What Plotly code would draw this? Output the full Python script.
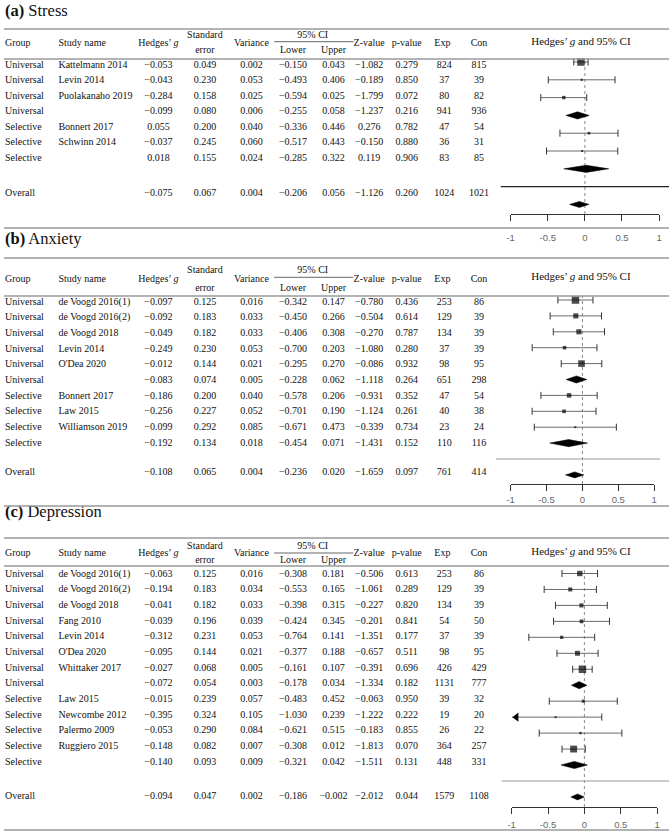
import math
import plotly.graph_objects as go

W, H = 672, 833

# ---------------- data ----------------
tick_vals = [-1, -0.5, 0, 0.5, 1]
tick_text = ["-1", "-0.5", "0", "0.5", "1"]

# (a) Stress
stress_group = ["Universal", "Universal", "Universal", "Universal", "Selective", "Selective", "Selective", "Overall"]
stress_study = ["Kattelmann 2014", "Levin 2014", "Puolakanaho 2019", "", "Bonnert 2017", "Schwinn 2014", "", ""]
stress_g = [-0.053, -0.043, -0.284, -0.099, 0.055, -0.037, 0.018, -0.075]
stress_se = [0.049, 0.230, 0.158, 0.080, 0.200, 0.245, 0.155, 0.067]
stress_var = [0.002, 0.053, 0.025, 0.006, 0.040, 0.060, 0.024, 0.004]
stress_lo = [-0.150, -0.493, -0.594, -0.255, -0.336, -0.517, -0.285, -0.206]
stress_hi = [0.043, 0.406, 0.025, 0.058, 0.446, 0.443, 0.322, 0.056]
stress_z = [-1.082, -0.189, -1.799, -1.237, 0.276, -0.150, 0.119, -1.126]
stress_p = [0.279, 0.850, 0.072, 0.216, 0.782, 0.880, 0.906, 0.260]
stress_exp = [824, 37, 80, 941, 47, 36, 83, 1024]
stress_con = [815, 39, 82, 936, 54, 31, 85, 1021]

# (b) Anxiety
anx_group = ["Universal", "Universal", "Universal", "Universal", "Universal", "Universal",
             "Selective", "Selective", "Selective", "Selective", "Overall"]
anx_study = ["de Voogd 2016(1)", "de Voogd 2016(2)", "de Voogd 2018", "Levin 2014", "O'Dea 2020", "",
             "Bonnert 2017", "Law 2015", "Williamson 2019", "", ""]
anx_g = [-0.097, -0.092, -0.049, -0.249, -0.012, -0.083, -0.186, -0.256, -0.099, -0.192, -0.108]
anx_se = [0.125, 0.183, 0.182, 0.230, 0.144, 0.074, 0.200, 0.227, 0.292, 0.134, 0.065]
anx_var = [0.016, 0.033, 0.033, 0.053, 0.021, 0.005, 0.040, 0.052, 0.085, 0.018, 0.004]
anx_lo = [-0.342, -0.450, -0.406, -0.700, -0.295, -0.228, -0.578, -0.701, -0.671, -0.454, -0.236]
anx_hi = [0.147, 0.266, 0.308, 0.203, 0.270, 0.062, 0.206, 0.190, 0.473, 0.071, 0.020]
anx_z = [-0.780, -0.504, -0.270, -1.080, -0.086, -1.118, -0.931, -1.124, -0.339, -1.431, -1.659]
anx_p = [0.436, 0.614, 0.787, 0.280, 0.932, 0.264, 0.352, 0.261, 0.734, 0.152, 0.097]
anx_exp = [253, 129, 134, 37, 98, 651, 47, 40, 23, 110, 761]
anx_con = [86, 39, 39, 39, 95, 298, 54, 38, 24, 116, 414]

# (c) Depression
dep_group = ["Universal", "Universal", "Universal", "Universal", "Universal", "Universal", "Universal", "Universal",
             "Selective", "Selective", "Selective", "Selective", "Selective", "Overall"]
dep_study = ["de Voogd 2016(1)", "de Voogd 2016(2)", "de Voogd 2018", "Fang 2010", "Levin 2014", "O'Dea 2020",
             "Whittaker 2017", "", "Law 2015", "Newcombe 2012", "Palermo 2009", "Ruggiero 2015", "", ""]
dep_g = [-0.063, -0.194, -0.041, -0.039, -0.312, -0.095, -0.027, -0.072, -0.015, -0.395, -0.053, -0.148, -0.140, -0.094]
dep_se = [0.125, 0.183, 0.182, 0.196, 0.231, 0.144, 0.068, 0.054, 0.239, 0.324, 0.290, 0.082, 0.093, 0.047]
dep_var = [0.016, 0.034, 0.033, 0.039, 0.053, 0.021, 0.005, 0.003, 0.057, 0.105, 0.084, 0.007, 0.009, 0.002]
dep_lo = [-0.308, -0.553, -0.398, -0.424, -0.764, -0.377, -0.161, -0.178, -0.483, -1.030, -0.621, -0.308, -0.321, -0.186]
dep_hi = [0.181, 0.165, 0.315, 0.345, 0.141, 0.188, 0.107, 0.034, 0.452, 0.239, 0.515, 0.012, 0.042, -0.002]
dep_z = [-0.506, -1.061, -0.227, -0.201, -1.351, -0.657, -0.391, -1.334, -0.063, -1.222, -0.183, -1.813, -1.511, -2.012]
dep_p = [0.613, 0.289, 0.820, 0.841, 0.177, 0.511, 0.696, 0.182, 0.950, 0.222, 0.855, 0.070, 0.131, 0.044]
dep_exp = [253, 129, 134, 54, 37, 98, 426, 1131, 39, 19, 26, 364, 448, 1579]
dep_con = [86, 39, 39, 50, 39, 95, 429, 777, 32, 20, 22, 257, 331, 1108]

panel_titles = ["<b>(a)</b> Stress", "<b>(b)</b> Anxiety", "<b>(c)</b> Depression"]
forest_header = "Hedges\u2019 <i>g</i> and 95% CI"

# ---------------- layout constants (pixels) ----------------
SERIF = "Liberation Serif"
SANS = "Liberation Sans"
TXT = "#111111"
RULE = "#9a9a9a"
X_GROUP, X_STUDY = 1, 55
X_G, X_SE, X_VAR, X_LO, X_HI, X_Z, X_P, X_EXP, X_CON = 156, 203, 250, 292, 333, 369, 407, 445, 480
X_CI_HDR, CI_RULE_X0, CI_RULE_X1 = 312, 273, 353
X_FOREST_HDR = 583
SQ_MIN, SQ_MAX = 2.0, 7.5
SUB_HH, OV_HH = 3.6, 3.0

geo = [
    dict(title_y=12, top_rule=29, hdr1=35.7, hdr_mid=43, hdr2=50, ci_rule=41.7, hdr_rule=59,
         row_y0=65, row_dy=15.5, overall_y=193, bottom_rule=228, fhdr_y=42.7,
         f_x0=512, f_x1=662, f_y0=62, f_dy=17.8, f_axis=214, sep=(502, 672), sep_color="#222222", standoff=9),
    dict(title_y=240, top_rule=258, hdr1=270.7, hdr_mid=279.3, hdr2=288.3, ci_rule=277.3, hdr_rule=296,
         row_y0=302, row_dy=15.67, overall_y=472, bottom_rule=506, fhdr_y=277,
         f_x0=512, f_x1=657, f_y0=300, f_dy=15.9, f_axis=484, sep=(497, 663), sep_color="#999999", standoff=1),
    dict(title_y=513, top_rule=538, hdr1=546.7, hdr_mid=553, hdr2=560, ci_rule=553, hdr_rule=566,
         row_y0=574, row_dy=15.67, overall_y=796, bottom_rule=830, fhdr_y=552,
         f_x0=513, f_x1=660, f_y0=573.5, f_dy=15.96, f_axis=807, sep=(503, 672), sep_color="#999999", standoff=3),
]

datasets = [
    (stress_group, stress_study, stress_g, stress_se, stress_var, stress_lo, stress_hi, stress_z, stress_p, stress_exp, stress_con),
    (anx_group, anx_study, anx_g, anx_se, anx_var, anx_lo, anx_hi, anx_z, anx_p, anx_exp, anx_con),
    (dep_group, dep_study, dep_g, dep_se, dep_var, dep_lo, dep_hi, dep_z, dep_p, dep_exp, dep_con),
]


def f3(v):
    return f"{v:.3f}".replace("-", "\u2212")


fig = go.Figure()
shapes = []
layout_axes = {}

# canvas axis in pixel units for the table text and rules
layout_axes["xaxis"] = dict(range=[0, W], domain=[0, 1], visible=False, fixedrange=True)
layout_axes["yaxis"] = dict(range=[H, 0], domain=[0, 1], visible=False, fixedrange=True)


def text_trace(xs, ys, ts, pos, size=10, family=SERIF, xref="x", yref="y"):
    return go.Scatter(x=xs, y=ys, text=ts, mode="text", textposition=pos,
                      textfont=dict(family=family, size=size, color=TXT),
                      xaxis=xref, yaxis=yref, hoverinfo="skip", showlegend=False, cliponaxis=False)


for k, (P, D) in enumerate(zip(geo, datasets)):
    group, study, g, se, var, lo, hi, z, p, exp, con = D
    n = len(group) - 1
    ty = [P["row_y0"] + i * P["row_dy"] for i in range(n)] + [P["overall_y"]]

    # title
    fig.add_trace(text_trace([1], [P["title_y"]], [panel_titles[k]], "middle right", size=16.5))

    # header
    lx = [X_GROUP, X_STUDY]
    ly = [P["hdr_mid"], P["hdr_mid"]]
    lt = ["Group", "Study name"]
    fig.add_trace(text_trace(lx, ly, lt, "middle right"))
    cx = [X_G, X_SE, X_SE, X_VAR, X_CI_HDR, X_LO, X_HI, X_Z, X_P, X_EXP - 2, X_CON]
    cy = [P["hdr_mid"], P["hdr1"], P["hdr2"], P["hdr_mid"], P["hdr1"], P["hdr2"], P["hdr2"],
          P["hdr_mid"], P["hdr_mid"], P["hdr_mid"], P["hdr_mid"]]
    ct = ["Hedges\u2019 <i>g</i>", "Standard", "error", "Variance", "95% CI", "Lower", "Upper",
          "Z-value", "p-value", "Exp", "Con"]
    fig.add_trace(text_trace(cx, cy, ct, "middle center"))
    fig.add_trace(text_trace([X_FOREST_HDR], [P["fhdr_y"]], [forest_header], "middle center", size=11))

    # table body
    lx, ly, lt = [], [], []
    for i in range(n + 1):
        lx.append(X_GROUP); ly.append(ty[i]); lt.append(group[i])
        if study[i]:
            lx.append(X_STUDY); ly.append(ty[i]); lt.append(study[i])
    fig.add_trace(text_trace(lx, ly, lt, "middle right"))
    cx, cy, ct = [], [], []
    for vals, xc, fmt in [(g, X_G, f3), (se, X_SE, f3), (var, X_VAR, f3), (lo, X_LO, f3), (hi, X_HI, f3),
                          (z, X_Z, f3), (p, X_P, f3), (exp, X_EXP, str), (con, X_CON, str)]:
        for i in range(n + 1):
            cx.append(xc); cy.append(ty[i]); ct.append(fmt(vals[i]))
    fig.add_trace(text_trace(cx, cy, ct, "middle center"))

    # rules
    for yy in (P["top_rule"], P["hdr_rule"], P["bottom_rule"]):
        shapes.append(dict(type="line", xref="paper", yref="y", x0=0, x1=1, y0=yy, y1=yy,
                           line=dict(color=RULE, width=1.4)))
    shapes.append(dict(type="line", xref="x", yref="y", x0=CI_RULE_X0, x1=CI_RULE_X1,
                       y0=P["ci_rule"], y1=P["ci_rule"], line=dict(color="#666666", width=1)))

    # ---------- forest subplot ----------
    xa, ya = f"x{k + 2}", f"y{k + 2}"
    fy0, fdy = P["f_y0"], P["f_dy"]
    xmin, xmax = tick_vals[0], tick_vals[-1]
    rows = list(range(n)) + [n + 1]
    layout_axes[f"xaxis{k + 2}"] = dict(
        domain=[P["f_x0"] / W, P["f_x1"] / W], range=[xmin, xmax], anchor=ya,
        showline=True, linecolor="#333333", linewidth=1, ticks="outside", ticklen=6, tickwidth=1,
        tickcolor="#333333", tickvals=tick_vals, ticktext=tick_text,
        tickfont=dict(family=SANS, size=9.5, color="#666666"), ticklabelstandoff=P["standoff"],
        showgrid=False, zeroline=False, fixedrange=True)
    layout_axes[f"yaxis{k + 2}"] = dict(
        domain=[1 - P["f_axis"] / H, 1 - P["hdr_rule"] / H],
        range=[(P["f_axis"] - fy0) / fdy, (P["hdr_rule"] - fy0) / fdy],
        anchor=xa, visible=False, fixedrange=True)

    # zero line
    shapes.append(dict(type="line", xref=xa, yref=f"{ya} domain", x0=0, x1=0, y0=0, y1=1,
                       line=dict(color="#888888", width=1, dash="dot"), layer="below"))
    # separator before overall
    shapes.append(dict(type="line", xref="paper", yref=ya, x0=P["sep"][0] / W, x1=P["sep"][1] / W,
                       y0=n, y1=n, line=dict(color=P["sep_color"], width=1.2)))

    studies = [i for i in range(n + 1) if study[i]]
    summaries = [i for i in range(n + 1) if not study[i]]

    # CI lines
    lxs, lys, capx, capy, arx, ary, ars = [], [], [], [], [], [], []
    for i in studies:
        r = rows[i]
        lxs += [max(lo[i], xmin), min(hi[i], xmax), None]
        lys += [r, r, None]
        if lo[i] >= xmin:
            capx.append(lo[i]); capy.append(r)
        else:
            arx.append(xmin + 0.065); ary.append(r); ars.append("triangle-left")
        if hi[i] <= xmax:
            capx.append(hi[i]); capy.append(r)
        else:
            arx.append(xmax - 0.065); ary.append(r); ars.append("triangle-right")
    fig.add_trace(go.Scatter(x=lxs, y=lys, mode="lines", line=dict(color="#6a6a6a", width=1),
                             xaxis=xa, yaxis=ya, hoverinfo="skip", showlegend=False))
    fig.add_trace(go.Scatter(x=capx, y=capy, mode="markers",
                             marker=dict(symbol="line-ns", size=5, line=dict(color="#333333", width=1)),
                             xaxis=xa, yaxis=ya, hoverinfo="skip", showlegend=False, cliponaxis=False))
    if arx:
        fig.add_trace(go.Scatter(x=arx, y=ary, mode="markers",
                                 marker=dict(symbol=ars, size=8, color="#000000", line=dict(width=0)),
                                 xaxis=xa, yaxis=ya, hoverinfo="skip", showlegend=False, cliponaxis=False))

    # squares sized by inverse-variance weight (log scaled within panel)
    lw = [math.log(1.0 / var[i]) for i in studies]
    lmin, lmax = min(lw), max(lw)
    sizes = [SQ_MIN + (SQ_MAX - SQ_MIN) * (v - lmin) / (lmax - lmin) for v in lw]
    fig.add_trace(go.Scatter(x=[g[i] for i in studies], y=[rows[i] for i in studies], mode="markers",
                             marker=dict(symbol="square", size=sizes, color="#000000", line=dict(width=0)),
                             xaxis=xa, yaxis=ya, hoverinfo="skip", showlegend=False, cliponaxis=False))

    # diamonds
    dx, dy = [], []
    for i in summaries:
        r = rows[i]
        hh = (OV_HH if group[i] == "Overall" else SUB_HH) / fdy
        dx += [lo[i], g[i], hi[i], g[i], lo[i], None]
        dy += [r, r - hh, r, r + hh, r, None]
    fig.add_trace(go.Scatter(x=dx, y=dy, mode="lines", fill="toself", fillcolor="#000000",
                             line=dict(color="#000000", width=0.5),
                             xaxis=xa, yaxis=ya, hoverinfo="skip", showlegend=False))

fig.update_layout(width=W, height=H, margin=dict(l=0, r=0, t=0, b=0),
                  paper_bgcolor="white", plot_bgcolor="rgba(0,0,0,0)", showlegend=False,
                  shapes=shapes, **layout_axes)

fig.write_html("out.html", config={"displayModeBar": False},
               post_script="document.body.style.margin='0';document.body.style.padding='0';")
